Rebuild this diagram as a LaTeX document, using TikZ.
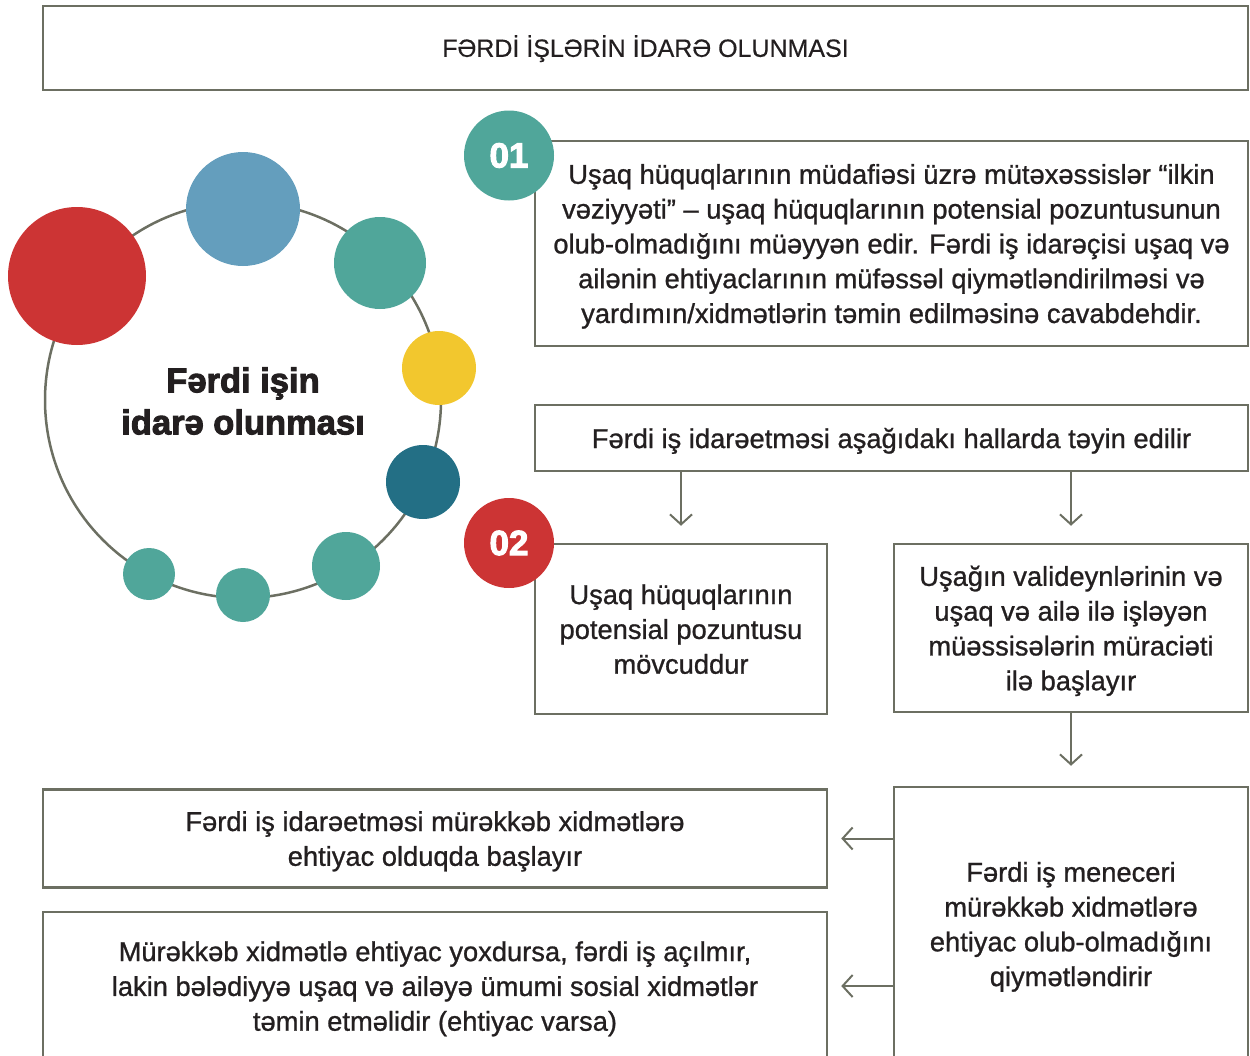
\documentclass[tikz,border=0pt]{standalone}
\usepackage{fontspec}
\setmainfont{Liberation Sans}[FakeBold=0.9]
\newfontfamily\titlefont{Liberation Sans}[FakeBold=0.4]
\newfontfamily\heavyfont{Liberation Sans}[FakeBold=2.8]
\usetikzlibrary{arrows.meta}
\definecolor{linegray}{RGB}{108,111,98}
\definecolor{cteal}{RGB}{80,166,154}
\definecolor{cred}{RGB}{204,52,52}
\definecolor{cblue}{RGB}{100,158,189}
\definecolor{cyellow}{RGB}{242,199,46}
\definecolor{cdark}{RGB}{35,111,133}
\definecolor{txt}{RGB}{35,31,32}
\tikzset{
  box/.style={draw=linegray, line width=2.5pt, fill=white, inner sep=0pt, align=center, text=txt,
    text depth=0pt, font=\fontsize{27.3}{34.8}\selectfont},
  dot/.style={circle, inner sep=0pt, minimum size=#1},
  num/.style={circle, inner sep=0pt, minimum size=90pt, text=white, font=\heavyfont\bfseries\fontsize{35}{35}\selectfont},
  arr/.style={draw=linegray, line width=2pt, -{Straight Barb[length=10pt,width=22pt]}},
  ring/.style={draw=linegray, line width=2.5pt},
}
\begin{document}
\begin{tikzpicture}[x=1pt,y=-1pt]
\useasboundingbox (0,0) rectangle (1250,1055);
\clip (0,0) rectangle (1250,1055);
% title
\node[box, text depth=4pt, minimum width=1205pt, minimum height=84pt, font=\titlefont\fontsize{25}{30}\selectfont] (title) at (645.5,48) {FƏRDİ İŞLƏRİN İDARƏ OLUNMASI};
% ring and dots
\draw[ring] (243,400) circle[radius=198pt];
\node[dot=138pt, fill=cred] (c1) at (77,276) {};
\node[dot=114pt, fill=cblue] (c2) at (243,209) {};
\node[dot=92pt, fill=cteal] (c3) at (380,263) {};
\node[dot=74pt, fill=cyellow] (c4) at (439,368) {};
\node[dot=74pt, fill=cdark] (c5) at (423,482) {};
\node[dot=68pt, fill=cteal] (c6) at (346,566) {};
\node[dot=54pt, fill=cteal] (c7) at (243,595) {};
\node[dot=52pt, fill=cteal] (c8) at (149,574) {};
\node[align=center, text=txt, font=\heavyfont\bfseries\fontsize{34.5}{42}\selectfont] (center) at (243,401) {Fərdi işin\\idarə olunması};
% boxes
\node[box, minimum width=713pt, minimum height=205pt] (b1) at (891.5,243.5) {Uşaq hüquqlarının müdafiəsi üzrə mütəxəssislər “ilkin\\vəziyyəti” – uşaq hüquqlarının potensial pozuntusunun\\olub-olmadığını müəyyən edir. Fərdi iş idarəçisi uşaq və\\ailənin ehtiyaclarının müfəssəl qiymətləndirilməsi və\\yardımın/xidmətlərin təmin edilməsinə cavabdehdir.};
\node[num, fill=cteal] (n1) at (509,155.5) {01};
\node[box, minimum width=713pt, minimum height=66pt] (b2) at (891.5,438) {Fərdi iş idarəetməsi aşağıdakı hallarda təyin edilir};
\node[box, minimum width=292pt, minimum height=170pt] (b3) at (681,629) {Uşaq hüquqlarının\\potensial pozuntusu\\mövcuddur};
\node[num, fill=cred] (n2) at (509,543) {02};
\node[box, minimum width=354pt, minimum height=168pt] (b4) at (1071,628) {Uşağın valideynlərinin və\\uşaq və ailə ilə işləyən\\müəssisələrin müraciəti\\ilə başlayır};
\node[box, minimum width=354pt, minimum height=274pt] (b5) at (1071,924) {Fərdi iş meneceri\\mürəkkəb xidmətlərə\\ehtiyac olub-olmadığını\\qiymətləndirir};
\node[box, minimum width=784pt, minimum height=98pt] (b6) at (435,838.5) {Fərdi iş idarəetməsi mürəkkəb xidmətlərə\\ehtiyac olduqda başlayır};
\node[box, minimum width=784pt, minimum height=148pt] (b7) at (435,986) {Mürəkkəb xidmətlə ehtiyac yoxdursa, fərdi iş açılmır,\\lakin bələdiyyə uşaq və ailəyə ümumi sosial xidmətlər\\təmin etməlidir (ehtiyac varsa)};
% connectors
\draw[arr] (b2.south -| b3.north) -- ([yshift=17pt]b3.north);
\draw[arr] (b2.south -| b4.north) -- ([yshift=17pt]b4.north);
\draw[arr] (b4.south) -- ([yshift=20pt]b5.north);
\draw[arr] (b5.west |- b6.east) -- ([xshift=13pt]b6.east);
\draw[arr] (b5.west |- b7.east) -- ([xshift=13pt]b7.east);
\end{tikzpicture}
\end{document}
